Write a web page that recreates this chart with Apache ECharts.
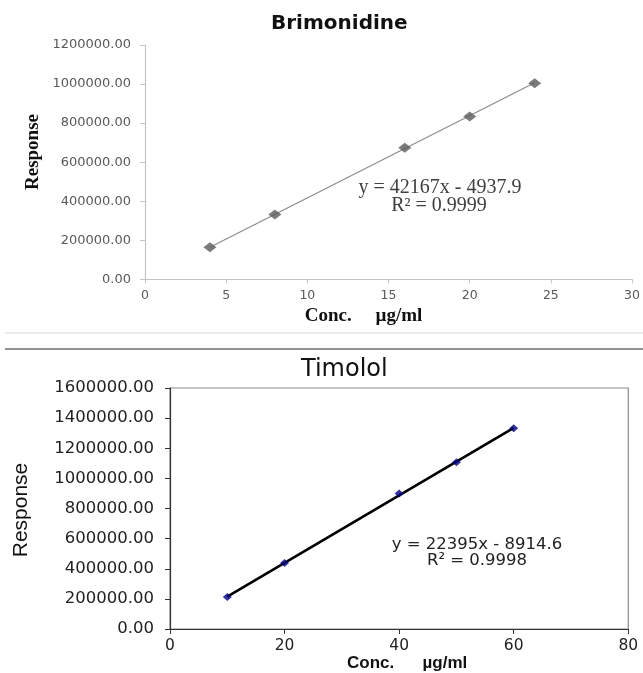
<!DOCTYPE html>
<html>
<head>
<meta charset="utf-8">
<script src="https://cdn.jsdelivr.net/npm/echarts@6/dist/echarts.min.js"></script>
<style>
html,body{margin:0;padding:0;background:#fff;}
#c{width:643px;height:673px;}
</style>
</head>
<body>
<div id="c"></div>
<script>
// ---- Brimonidine ----
const brimConc = [4, 8, 16, 20, 24];
const brimResp = [163700, 331500, 674000, 833500, 1004000];
const brimTrendX = [4, 24];
const brimTrendY = [163730, 1007070];
const brimXTicks = [0, 5, 10, 15, 20, 25, 30];
const brimYTicks = [0, 200000, 400000, 600000, 800000, 1000000, 1200000];
// ---- Timolol ----
const timConc = [10, 20, 40, 50, 60];
const timResp = [212000, 438500, 900000, 1107000, 1333000];
const timTrendX = [10, 60];
const timTrendY = [215035, 1334785];
const timXTicks = [0, 20, 40, 60, 80];
const timYTicks = [0, 200000, 400000, 600000, 800000, 1000000, 1200000, 1400000, 1600000];

const pairs = (xs, ys) => xs.map((x, i) => [x, ys[i]]);
const fmt = v => v.toFixed(2);

const chart = echarts.init(document.getElementById('c'), null, {renderer: 'canvas'});
chart.setOption({
  backgroundColor: '#fff',
  animation: false,
  title: [
    {text: 'Brimonidine', left: 271, top: 14, padding: 0,
     textStyle: {fontFamily: 'DejaVu Sans', fontWeight: 'bold', fontSize: 20, color: '#111'}},
    {text: 'Timolol', left: 301, top: 358, padding: 0,
     textStyle: {fontFamily: 'DejaVu Sans', fontWeight: 'normal', fontSize: 24, color: '#111'}}
  ],
  grid: [
    {left: 145, top: 45, width: 488, height: 234.3, show: false},
    {left: 170, top: 388, width: 458.3, height: 245, show: true, borderColor: '#8a8a8a', borderWidth: 1.2, backgroundColor: 'transparent'}
  ],
  xAxis: [
    {gridIndex: 0, type: 'value', min: brimXTicks[0], max: brimXTicks[brimXTicks.length - 1], interval: 5,
     splitLine: {show: false},
     axisLine: {show: true, lineStyle: {color: '#c4c4c4', width: 1.2}},
     axisTick: {show: true, inside: false, length: 4, lineStyle: {color: '#c4c4c4'}},
     axisLabel: {margin: 10, fontFamily: 'DejaVu Sans', fontSize: 12.5, color: '#595959'},
     name: 'Conc.     µg/ml', nameLocation: 'middle', nameGap: 27,
     nameTextStyle: {fontFamily: 'Liberation Serif', fontWeight: 'bold', fontSize: 19, color: '#111', padding: [0, 50, 0, 0]}},
    {gridIndex: 1, type: 'value', min: timXTicks[0], max: timXTicks[timXTicks.length - 1], interval: 20,
     splitLine: {show: false},
     axisLine: {show: true, lineStyle: {color: '#333', width: 1.2}},
     axisTick: {show: true, inside: false, length: 5, lineStyle: {color: '#333'}},
     axisLabel: {margin: 9, fontFamily: 'DejaVu Sans', fontSize: 15.5, color: '#222'},
     name: 'Conc.      µg/ml', nameLocation: 'middle', nameGap: 26,
     nameTextStyle: {fontFamily: 'Liberation Sans', fontWeight: 'bold', fontSize: 17, color: '#111', padding: [0, 0, 0, 16]}}
  ],
  yAxis: [
    {gridIndex: 0, type: 'value', min: brimYTicks[0], max: brimYTicks[brimYTicks.length - 1], interval: 200000,
     splitLine: {show: false},
     axisLine: {show: true, lineStyle: {color: '#c4c4c4', width: 1.2}},
     axisTick: {show: true, inside: false, length: 5, lineStyle: {color: '#c4c4c4'}},
     axisLabel: {margin: 14, fontFamily: 'DejaVu Sans', fontSize: 13, color: '#595959', formatter: fmt}},
    {gridIndex: 1, type: 'value', min: timYTicks[0], max: timYTicks[timYTicks.length - 1], interval: 200000,
     splitLine: {show: false},
     axisLine: {show: true, lineStyle: {color: '#333', width: 1.2}},
     axisTick: {show: true, inside: false, length: 5, lineStyle: {color: '#333'}},
     axisLabel: {margin: 16, fontFamily: 'DejaVu Sans', fontSize: 16.5, color: '#222', formatter: fmt}}
  ],
  series: [
    {type: 'line', xAxisIndex: 0, yAxisIndex: 0, data: pairs(brimTrendX, brimTrendY), showSymbol: false, symbol: 'none',
     lineStyle: {color: '#8c8c8c', width: 1.2}, z: 2},
    {type: 'scatter', xAxisIndex: 0, yAxisIndex: 0, data: pairs(brimConc, brimResp), symbol: 'diamond', symbolSize: [13, 10],
     itemStyle: {color: '#5a5a5a'}, z: 3},
    {type: 'line', xAxisIndex: 1, yAxisIndex: 1, data: pairs(timTrendX, timTrendY), showSymbol: false, symbol: 'none',
     lineStyle: {color: '#000', width: 2.6}, z: 2},
    {type: 'scatter', xAxisIndex: 1, yAxisIndex: 1, data: pairs(timConc, timResp), symbol: 'diamond', symbolSize: [9, 8],
     itemStyle: {color: '#000080'}, z: 3}
  ],
  graphic: [
    {type: 'line', shape: {x1: 5, y1: 333, x2: 643, y2: 333}, style: {stroke: '#d9d9d9', lineWidth: 1}},
    {type: 'line', shape: {x1: 5, y1: 349, x2: 643, y2: 349}, style: {stroke: '#6e6e6e', lineWidth: 1.5}},
    {type: 'text', x: 33, y: 152, rotation: Math.PI / 2,
     style: {text: 'Response', fontFamily: 'Liberation Serif', fontWeight: 'bold', fontSize: 19, fill: '#111', textAlign: 'center', textVerticalAlign: 'middle'}},
    {type: 'text', x: 21, y: 510, rotation: Math.PI / 2,
     style: {text: 'Response', fontFamily: 'Liberation Sans', fontSize: 21, fill: '#111', textAlign: 'center', textVerticalAlign: 'middle'}},
    {type: 'text', x: 440, y: 188,
     style: {text: 'y = 42167x - 4937.9', fontFamily: 'Liberation Serif', fontSize: 20, fill: '#404040', textAlign: 'center', textVerticalAlign: 'middle'}},
    {type: 'text', x: 439, y: 206,
     style: {text: 'R² = 0.9999', fontFamily: 'Liberation Serif', fontSize: 20, fill: '#404040', textAlign: 'center', textVerticalAlign: 'middle'}},
    {type: 'text', x: 477, y: 545,
     style: {text: 'y = 22395x - 8914.6', fontFamily: 'DejaVu Sans', fontSize: 16.5, fill: '#222', textAlign: 'center', textVerticalAlign: 'middle'}},
    {type: 'text', x: 477, y: 561,
     style: {text: 'R² = 0.9998', fontFamily: 'DejaVu Sans', fontSize: 16.5, fill: '#222', textAlign: 'center', textVerticalAlign: 'middle'}}
  ]
});
</script>
</body>
</html>
